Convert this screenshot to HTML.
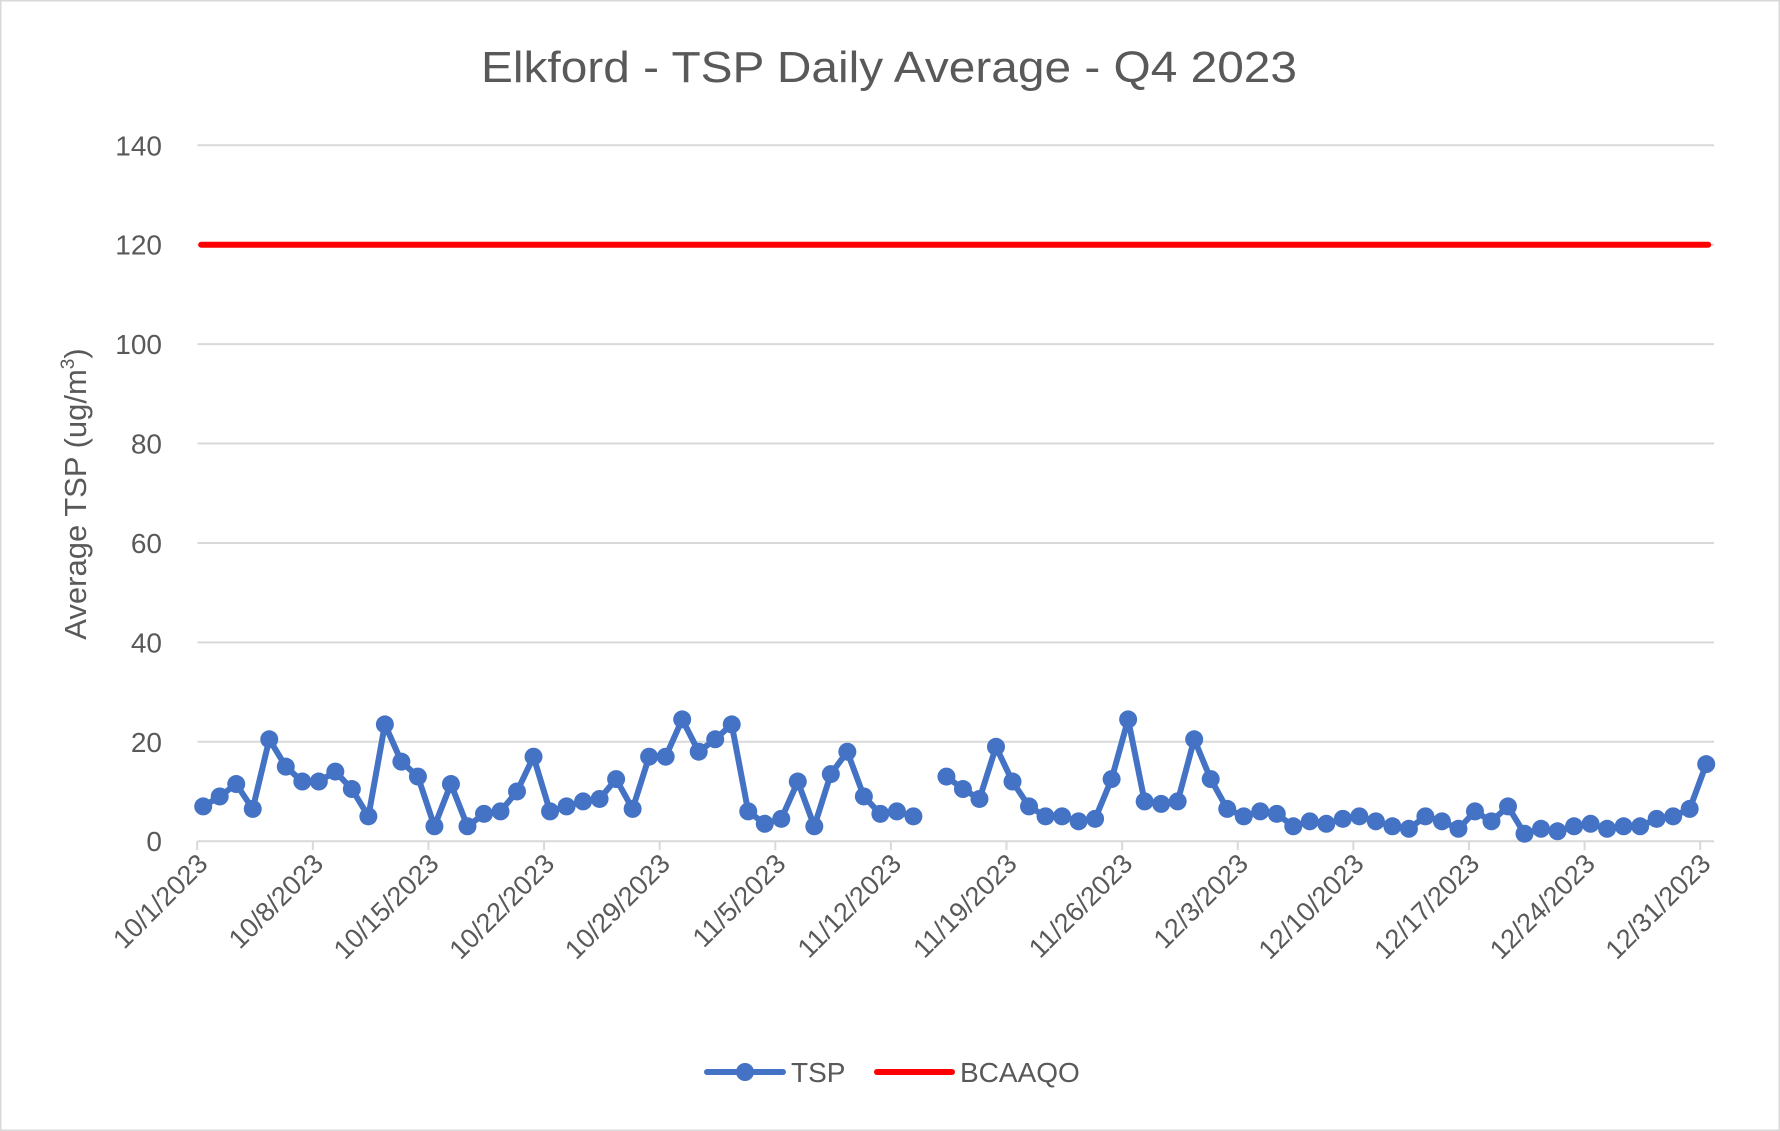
<!DOCTYPE html>
<html><head><meta charset="utf-8"><style>
html,body{margin:0;padding:0;background:#fff;}
svg{display:block;font-family:"Liberation Sans",sans-serif;}
</style></head><body>
<svg id="chart" width="1780" height="1131" viewBox="0 0 1780 1131" xmlns="http://www.w3.org/2000/svg">
<rect x="0.5" y="0.5" width="1779" height="1130" fill="#fff" stroke="#d9d9d9" stroke-width="2"/>
<text x="889" y="82" text-anchor="middle" font-size="44" fill="#595959" textLength="816" lengthAdjust="spacingAndGlyphs">Elkford - TSP Daily Average - Q4 2023</text>
<text transform="translate(86,494) rotate(-90)" text-anchor="middle" font-size="31" fill="#595959">Average TSP (ug/m<tspan font-size="19" dy="-12">3</tspan><tspan dy="12">)</tspan></text>
<g id="grid"></g><g id="yticks"></g><g id="xticks"></g><g id="series"></g>
<g>
<g>
<line x1="707" y1="1072" x2="783" y2="1072" stroke="#4472c4" stroke-width="6" stroke-linecap="round"/>
<circle cx="745" cy="1072" r="9" fill="#4472c4"/>
<text x="791" y="1082" font-size="28" fill="#595959">TSP</text></g>
<g>
<line x1="877" y1="1072" x2="952" y2="1072" stroke="#ff0000" stroke-width="6" stroke-linecap="round"/>
<text x="960" y="1082" font-size="28" fill="#595959">BCAAQO</text></g>
</g>
</svg>
<script>
const yTicks=[0,20,40,60,80,100,120,140];
const xTickLabels=["10/1/2023","10/8/2023","10/15/2023","10/22/2023","10/29/2023","11/5/2023","11/12/2023","11/19/2023","11/26/2023","12/3/2023","12/10/2023","12/17/2023","12/24/2023","12/31/2023"];
const tspValues=[7,9,11.5,6.5,20.5,15,12,12,14,10.5,5,23.5,16,13,3,11.5,3,5.5,6,10,17,6,7,8,8.5,12.5,6.5,17,17,24.5,18,20.5,23.5,6,3.5,4.5,12,3,13.5,18,9,5.5,6,5,
null,
13,10.5,8.5,19,12,7,5,5,4,4.5,12.5,24.5,8,7.5,8,20.5,12.5,6.5,5,6,5.5,3,4,3.5,4.5,5,4,3,2.5,5,4,2.5,6,4,7,1.5,2.5,2,3,3.5,2.5,3,3,4.5,5,6.5,15.5];
const bcaaqoValue=[120];
const NS="http://www.w3.org/2000/svg";
const y0=841.2,y140=145.3,xStart=203.2,xEnd=1706.2,nDays=92;
function ys(v){return y0-(v/140)*(y0-y140);}
function xs(i){return xStart+i*(xEnd-xStart)/(nDays-1);}
function mk(tag,attrs,parent){const e=document.createElementNS(NS,tag);for(const k in attrs)e.setAttribute(k,attrs[k]);parent.appendChild(e);return e;}
const grid=document.getElementById('grid'),yt=document.getElementById('yticks'),xt=document.getElementById('xticks'),ser=document.getElementById('series');
yTicks.forEach(v=>{
 const l=mk('line',{x1:197.5,x2:1714,y1:ys(v),y2:ys(v),stroke:'#d9d9d9','stroke-width':2},grid);
 
 
 const t=mk('text',{x:162,y:ys(v)+10,'text-anchor':'end','font-size':28,fill:'#595959'},yt);
 t.textContent=v;
 
 
});
xTickLabels.forEach((lab,k)=>{
 const i=k*7;const x=xs(i)-6;
 const tk=mk('line',{x1:x,x2:x,y1:y0,y2:y0+9,stroke:'#d9d9d9','stroke-width':2},xt);
 
 
 const t=mk('text',{transform:`translate(${x+12},${y0+24}) rotate(-45)`,'text-anchor':'end','font-size':27,fill:'#595959'},xt);
 t.textContent=lab;
 
 
});
const red=mk('line',{x1:xs(0)-2,x2:xs(nDays-1)+2,y1:ys(bcaaqoValue[0]),y2:ys(bcaaqoValue[0]),stroke:'#ff0000','stroke-width':6,'stroke-linecap':'round'},ser);


let d='',pen=false;
tspValues.forEach((v,i)=>{if(v===null){pen=false;return;}d+=(pen?'L':'M')+xs(i).toFixed(1)+' '+ys(v).toFixed(1)+' ';pen=true;});
const p=mk('path',{d:d,fill:'none',stroke:'#4472c4','stroke-width':6,'stroke-linejoin':'round'},ser);


tspValues.forEach((v,i)=>{if(v===null)return;
 const c=mk('circle',{cx:xs(i),cy:ys(v),r:9,fill:'#4472c4'},ser);
 
 
});
</script>
</body></html>
